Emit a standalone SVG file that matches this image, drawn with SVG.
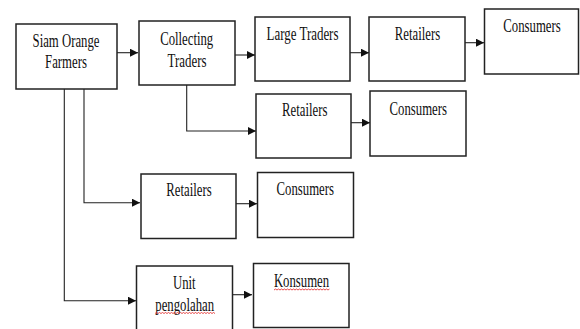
<svg xmlns="http://www.w3.org/2000/svg" width="580" height="329" viewBox="0 0 580 329">
<style>
.box{fill:#fff;stroke:#222;stroke-width:1.5}
.t{font-family:"Liberation Serif","Times New Roman",serif;font-size:18px;fill:#111;text-anchor:middle}
.c{fill:none;stroke:#222;stroke-width:1.1}
.sp{fill:none;stroke:#e02020;stroke-width:0.8}
</style>
<defs>
<marker id="ah" markerUnits="userSpaceOnUse" markerWidth="9" markerHeight="9" refX="8" refY="4" orient="auto">
<path d="M0,0 L8,4 L0,8 z" fill="#111"/>
</marker>
</defs>
<rect width="580" height="329" fill="#fff"/>
<g id="connectors">
<path class="c" d="M117,52.7 H138" marker-end="url(#ah)"/>
<path class="c" d="M235,55 H255" marker-end="url(#ah)"/>
<path class="c" d="M350,52.7 H369" marker-end="url(#ah)"/>
<path class="c" d="M465,42.7 H484" marker-end="url(#ah)"/>
<path class="c" d="M186.7,85 V131 H256" marker-end="url(#ah)"/>
<path class="c" d="M351,122.7 H370" marker-end="url(#ah)"/>
<path class="c" d="M84,89 V202.7 H140" marker-end="url(#ah)"/>
<path class="c" d="M236,203.7 H257" marker-end="url(#ah)"/>
<path class="c" d="M64.3,89 V300.7 H136" marker-end="url(#ah)"/>
<path class="c" d="M232,294.7 H252" marker-end="url(#ah)"/>
</g>
<g id="siam">
<rect class="box" x="16" y="24" width="101" height="65"/>
<text class="t" x="66" y="46.7" textLength="66.9" lengthAdjust="spacingAndGlyphs">Siam Orange</text>
<text class="t" x="66" y="68" textLength="41.8" lengthAdjust="spacingAndGlyphs">Farmers</text>
</g>
<g id="collecting">
<rect class="box" x="139" y="21" width="96" height="64"/>
<text class="t" x="186.7" y="44.5" textLength="53.1" lengthAdjust="spacingAndGlyphs">Collecting</text>
<text class="t" x="187" y="66.5" textLength="38.9" lengthAdjust="spacingAndGlyphs">Traders</text>
</g>
<g id="large">
<rect class="box" x="255" y="17" width="95" height="64"/>
<text class="t" x="302.5" y="40" textLength="71.9" lengthAdjust="spacingAndGlyphs">Large Traders</text>
</g>
<g id="retailers1">
<rect class="box" x="369" y="17" width="96" height="64"/>
<text class="t" x="417.5" y="39.5" textLength="45.3" lengthAdjust="spacingAndGlyphs">Retailers</text>
</g>
<g id="consumers1">
<rect class="box" x="484.5" y="9" width="94" height="65"/>
<text class="t" x="532" y="32.3" textLength="57.4" lengthAdjust="spacingAndGlyphs">Consumers</text>
</g>
<g id="retailers2">
<rect class="box" x="256" y="94" width="95" height="64"/>
<text class="t" x="304.7" y="116" textLength="45.3" lengthAdjust="spacingAndGlyphs">Retailers</text>
</g>
<g id="consumers2">
<rect class="box" x="370" y="91" width="96" height="65"/>
<text class="t" x="418.3" y="115" textLength="57.4" lengthAdjust="spacingAndGlyphs">Consumers</text>
</g>
<g id="retailers3">
<rect class="box" x="141" y="174" width="95" height="64.5"/>
<text class="t" x="189" y="196" textLength="45.3" lengthAdjust="spacingAndGlyphs">Retailers</text>
</g>
<g id="consumers3">
<rect class="box" x="257.5" y="172.5" width="96" height="65"/>
<text class="t" x="305.3" y="195" textLength="57.4" lengthAdjust="spacingAndGlyphs">Consumers</text>
</g>
<g id="unit">
<rect class="box" x="136.5" y="266" width="96" height="70"/>
<text class="t" x="184.3" y="289.3" textLength="22.7" lengthAdjust="spacingAndGlyphs">Unit</text>
<text class="t" x="184.7" y="310.7" textLength="58.8" lengthAdjust="spacingAndGlyphs">pengolahan</text>
<path class="sp" d="M155,313.5 l1.5,-1 l1.5,1 l1.5,-1 l1.5,1 l1.5,-1 l1.5,1 l1.5,-1 l1.5,1 l1.5,-1 l1.5,1 l1.5,-1 l1.5,1 l1.5,-1 l1.5,1 l1.5,-1 l1.5,1 l1.5,-1 l1.5,1 l1.5,-1 l1.5,1 l1.5,-1 l1.5,1 l1.5,-1 l1.5,1 l1.5,-1 l1.5,1 l1.5,-1 l1.5,1 l1.5,-1 l1.5,1 l1.5,-1 l1.5,1 l1.5,-1 l1.5,1 l1.5,-1 l1.5,1 l1.5,-1 l1.5,1 l1.5,-1 l1.5,1"/>
</g>
<g id="konsumen">
<rect class="box" x="253.5" y="263.5" width="95.5" height="64"/>
<text class="t" x="301.5" y="286.7" textLength="55.2" lengthAdjust="spacingAndGlyphs">Konsumen</text>
<path class="sp" d="M274,290 l1.5,-1 l1.5,1 l1.5,-1 l1.5,1 l1.5,-1 l1.5,1 l1.5,-1 l1.5,1 l1.5,-1 l1.5,1 l1.5,-1 l1.5,1 l1.5,-1 l1.5,1 l1.5,-1 l1.5,1 l1.5,-1 l1.5,1 l1.5,-1 l1.5,1 l1.5,-1 l1.5,1 l1.5,-1 l1.5,1 l1.5,-1 l1.5,1 l1.5,-1 l1.5,1 l1.5,-1 l1.5,1 l1.5,-1 l1.5,1 l1.5,-1 l1.5,1 l1.5,-1 l1.5,1 l1.5,-1"/>
</g>
</svg>
